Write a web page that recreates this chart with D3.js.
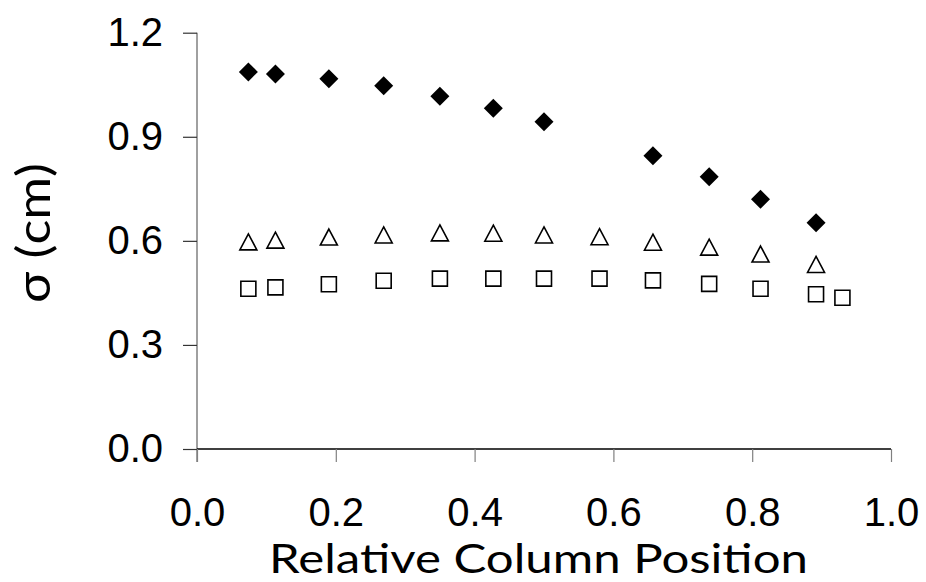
<!DOCTYPE html>
<html><head><meta charset="utf-8">
<script src="https://cdn.jsdelivr.net/npm/d3@7"></script>
<style>body{margin:0;background:#fff}svg{display:block}</style>
</head><body>
<script>
const xTicks = [0.0, 0.2, 0.4, 0.6, 0.8, 1.0];
const yTicks = [0.0, 0.3, 0.6, 0.9, 1.2];
const xDiamond = [0.074, 0.113, 0.19, 0.269, 0.35, 0.427, 0.5, 0.657, 0.738, 0.812, 0.892];
const yDiamond = [1.087, 1.081, 1.067, 1.047, 1.017, 0.982, 0.943, 0.845, 0.785, 0.720, 0.652];
const xTriangle = [0.074, 0.113, 0.19, 0.269, 0.35, 0.427, 0.5, 0.58, 0.657, 0.738, 0.812, 0.892];
const yTriangle = [0.597, 0.602, 0.611, 0.617, 0.623, 0.622, 0.617, 0.612, 0.596, 0.582, 0.562, 0.532];
const xSquare = [0.074, 0.113, 0.19, 0.269, 0.35, 0.427, 0.5, 0.58, 0.657, 0.738, 0.812, 0.892, 0.93];
const ySquare = [0.462, 0.466, 0.475, 0.485, 0.491, 0.491, 0.491, 0.491, 0.486, 0.476, 0.462, 0.446, 0.436];

const W = 926, H = 582;
const svg = d3.select("body").append("svg").attr("width", W).attr("height", H);
const x = d3.scaleLinear().domain([0, 1]).range([197, 891]);
const y = d3.scaleLinear().domain([0, 1.2]).range([449, 32.7]);

const tickFont = "'Liberation Sans', Arial, sans-serif";
const titleFont = "Lato, 'DejaVu Sans', sans-serif";

// y axis
const yAxis = svg.append("g").attr("transform", `translate(${x(0)},0)`)
  .call(d3.axisLeft(y).tickValues(yTicks).tickFormat(d3.format(".1f")).tickSize(14).tickPadding(20));
yAxis.select(".domain").attr("stroke", "#808080").attr("stroke-width", 1.5).attr("d", `M0,${y(1.2)}V${y(0)+13}`);
yAxis.selectAll(".tick line").attr("stroke", "#333").attr("stroke-width", 1.2);
yAxis.selectAll(".tick text").attr("font-family", tickFont).attr("font-size", 40).attr("fill", "#000");

// x axis
const xAxis = svg.append("g").attr("transform", `translate(0,${y(0)})`)
  .call(d3.axisBottom(x).tickValues(xTicks).tickFormat(d3.format(".1f")).tickSize(13).tickPadding(36));
xAxis.select(".domain").attr("stroke", "#000").attr("stroke-width", 1.5).attr("d", `M${x(0)},0H${x(1)}`);
xAxis.selectAll(".tick line").attr("stroke", "#808080").attr("stroke-width", 1.2);
xAxis.selectAll(".tick text").attr("font-family", tickFont).attr("font-size", 40).attr("fill", "#000");

// custom symbols
const diamond = { draw(ctx, s) { const r = 9.5; ctx.moveTo(0, -r); ctx.lineTo(r, 0); ctx.lineTo(0, r); ctx.lineTo(-r, 0); ctx.closePath(); } };
const triangle = { draw(ctx, s) { const w = 8.5, h = 8; ctx.moveTo(0, -h); ctx.lineTo(w, h); ctx.lineTo(-w, h); ctx.closePath(); } };
const square = { draw(ctx, s) { const r = 7.5; ctx.rect(-r, -r, 2*r, 2*r); } };

svg.append("g").selectAll("path").data(xSquare.map((v, i) => [v, ySquare[i]])).join("path")
  .attr("d", d3.symbol(square)()).attr("transform", d => `translate(${x(d[0])},${y(d[1])})`)
  .attr("fill", "none").attr("stroke", "#000").attr("stroke-width", 1.6);
svg.append("g").selectAll("path").data(xTriangle.map((v, i) => [v, yTriangle[i]])).join("path")
  .attr("d", d3.symbol(triangle)()).attr("transform", d => `translate(${x(d[0])},${y(d[1])})`)
  .attr("fill", "none").attr("stroke", "#000").attr("stroke-width", 1.6);
svg.append("g").selectAll("path").data(xDiamond.map((v, i) => [v, yDiamond[i]])).join("path")
  .attr("d", d3.symbol(diamond)()).attr("transform", d => `translate(${x(d[0])},${y(d[1])})`)
  .attr("fill", "#000");

// titles
svg.append("text").attr("x", 538.5).attr("y", 573).attr("text-anchor", "middle")
  .attr("font-family", titleFont).attr("font-size", 41).attr("fill", "#000")
  .attr("textLength", 539).attr("lengthAdjust", "spacingAndGlyphs")
  .text("Relative Column Position");
svg.append("text").attr("transform", "translate(50,233) rotate(-90)").attr("text-anchor", "middle")
  .attr("font-family", titleFont).attr("font-size", 46).attr("fill", "#000")
  .attr("textLength", 140).attr("lengthAdjust", "spacingAndGlyphs")
  .text("σ (cm)");
</script>
</body></html>
